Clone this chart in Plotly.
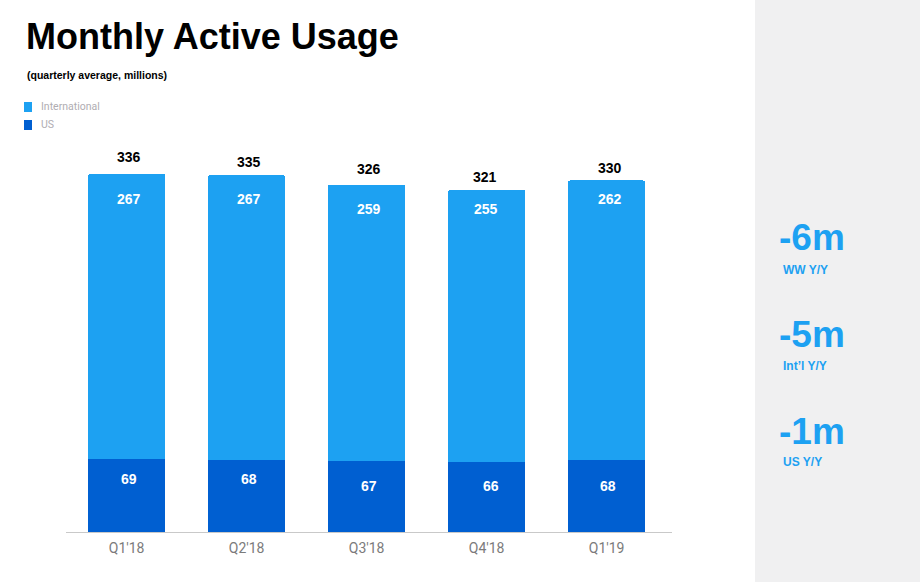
import plotly.graph_objects as go

quarters = ["Q1'18", "Q2'18", "Q3'18", "Q4'18", "Q1'19"]
international = [267, 267, 259, 255, 262]
us = [69, 68, 67, 66, 68]
totals = [336, 335, 326, 321, 330]

callout_values = ["-6m", "-5m", "-1m"]
callout_labels = ["WW Y/Y", "Int\u2019l Y/Y", "US Y/Y"]
legend_names = ["International", "US"]

# label offsets from the bar tops, the slide places these by hand
total_shift = [17, 13, 16, 13, 12]
intl_shift = [-25, -24, -24, -19, -19]
us_shift = [-20, -19, -25, -24, -26]
total_nudge = [2, 2.5, 2.5, -1.5, 3.5]
intl_nudge = [2, 2.5, 2.5, -0.5, 3]
us_nudge = [2.5, 2, 2, 4.5, 1]

BLUE = "#1da1f2"
DARK_BLUE = "#005fd1"
FONT = "Liberation Sans"

# plot area in pixels
LEFT, RIGHT, TOP, BOTTOM = 66, 672, 140, 532


def px_x(x):
    return (x - LEFT) / (RIGHT - LEFT)


def px_y(y):
    return (BOTTOM - y) / (BOTTOM - TOP)


def page_text(x, y, text, size, color, weight="bold", family=FONT):
    fig.add_annotation(xref="paper", yref="paper", x=px_x(x), y=px_y(y), xanchor="left", yanchor="middle",
                       text=text, showarrow=False, xshift=-1,
                       font=dict(family=family, size=size, color=color, weight=weight))


fig = go.Figure()

fig.add_trace(go.Bar(x=quarters, y=us, name="US", marker_color=DARK_BLUE, marker_line_width=0, width=0.645))
fig.add_trace(go.Bar(x=quarters, y=international, name="International", marker_color=BLUE, marker_line_width=0, width=0.645))

# -----------------------
# Bar labels
# -----------------------

for i, q in enumerate(quarters):
    fig.add_annotation(x=q, y=totals[i], xshift=total_nudge[i], yshift=total_shift[i], text=str(totals[i]),
                       showarrow=False, font=dict(family=FONT, size=14, color="black", weight="bold"))
    fig.add_annotation(x=q, y=us[i] + international[i], xshift=intl_nudge[i], yshift=intl_shift[i],
                       text=str(international[i]), showarrow=False,
                       font=dict(family=FONT, size=14, color="white", weight="bold"))
    fig.add_annotation(x=q, y=us[i], xshift=us_nudge[i], yshift=us_shift[i], text=str(us[i]), showarrow=False,
                       font=dict(family=FONT, size=14, color="white", weight="bold"))

# -----------------------
# Side panel
# -----------------------

fig.add_shape(type="rect", xref="paper", yref="paper", x0=px_x(755), x1=px_x(920), y0=px_y(582), y1=px_y(0),
              fillcolor="#f0f0f1", line_width=0, layer="below")

for i in range(3):
    page_text(778, 237 + i * 97, callout_values[i], 37, BLUE)
    page_text(782, 270 + i * 96, callout_labels[i], 12, BLUE)

# -----------------------
# Subtitle and legend
# -----------------------

page_text(26, 75, "(quarterly average, millions)", 10.5, "black")

for i, color in enumerate([BLUE, DARK_BLUE]):
    fig.add_shape(type="rect", xref="paper", yref="paper", x0=px_x(24), x1=px_x(32),
                  y0=px_y(102 + i * 18), y1=px_y(112 + i * 18), fillcolor=color, line_width=0)
    page_text(40, 106.5 + i * 18, legend_names[i], 10.5, "#b0adb2", weight="normal", family="Roboto")

fig.update_layout(
    width=920,
    height=582,
    barmode="stack",
    barcornerradius=2,
    showlegend=False,
    paper_bgcolor="white",
    plot_bgcolor="white",
    margin=dict(l=LEFT, r=920 - RIGHT, t=TOP, b=582 - BOTTOM),
    title=dict(text="Monthly Active Usage", xref="container", yref="container", x=26 / 920, xanchor="left",
               y=1 - 36 / 582, yanchor="middle",
               font=dict(family=FONT, size=36, color="black", weight="bold")),
    xaxis=dict(type="category", range=[-0.505, 4.545], showgrid=False, showline=True, linecolor="#c9c9c9", linewidth=1,
               ticks="outside", ticklen=3, tickcolor="rgba(0,0,0,0)", layer="below traces",
               tickfont=dict(family="Roboto", size=14, color="#7b7b7b")),
    yaxis=dict(range=[0, 368], visible=False),
)

# the page keeps a default body margin otherwise
fig.write_html("out.html", config={"displayModeBar": False}, post_script="document.body.style.margin='0';")
